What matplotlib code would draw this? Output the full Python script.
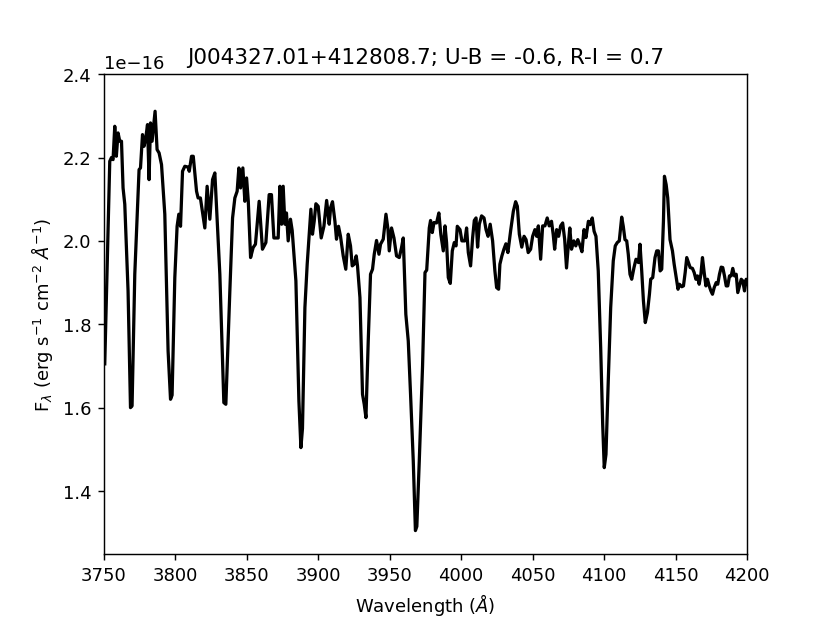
import matplotlib
matplotlib.use("Agg")
import matplotlib.pyplot as plt
import numpy as np

# spectrum (flux in units of 1e-16)
wave = [3750.7, 3754.2, 3755.4, 3756.5, 3757.7, 3758.8, 3760.0, 3761.2, 3762.4, 3763.5,
        3764.7, 3767.0, 3768.7, 3769.8, 3771.7, 3773.3, 3774.7, 3775.7, 3777.1, 3778.2,
        3779.4, 3780.6, 3781.7, 3782.7, 3783.8, 3785.0, 3785.9, 3787.3, 3788.7, 3790.4,
        3792.7, 3795.0, 3796.7, 3797.8, 3799.7, 3801.3, 3802.5, 3803.7, 3805.1, 3806.7,
        3809.0, 3809.8, 3811.4, 3812.6, 3814.9, 3816.0, 3817.6, 3820.7, 3822.3, 3824.2,
        3826.1, 3827.7, 3831.2, 3834.0, 3835.4, 3838.2, 3840.1, 3841.7, 3843.3, 3844.5,
        3845.7, 3847.3, 3848.7, 3849.9, 3851.1, 3852.7, 3854.5, 3856.1, 3858.7, 3861.0,
        3863.4, 3865.7, 3867.3, 3869.0, 3872.0, 3873.2, 3874.4, 3875.5, 3876.7, 3877.8,
        3879.0, 3880.6, 3881.8, 3884.4, 3886.5, 3887.9, 3889.0, 3890.7, 3892.3, 3893.7,
        3894.9, 3896.0, 3897.2, 3898.4, 3900.0, 3902.1, 3904.0, 3905.9, 3907.7, 3908.7,
        3910.0, 3911.7, 3912.8, 3914.2, 3915.6, 3917.5, 3919.3, 3921.0, 3922.6, 3923.8,
        3925.2, 3926.6, 3927.5, 3929.2, 3931.0, 3932.2, 3933.4, 3935.0, 3936.6, 3938.0,
        3939.2, 3940.8, 3942.5, 3943.6, 3945.5, 3947.4, 3948.8, 3949.7, 3951.3, 3953.0,
        3954.8, 3956.7, 3958.3, 3959.5, 3961.3, 3963.0, 3964.6, 3966.5, 3968.0, 3969.0,
        3970.7, 3973.0, 3974.7, 3975.9, 3977.7, 3978.6, 3979.8, 3981.0, 3982.8, 3984.4,
        3985.8, 3987.5, 3988.7, 3989.8, 3991.0, 3992.4, 3993.8, 3995.2, 3996.4, 3997.3,
        3999.2, 4000.5, 4002.6, 4003.8, 4005.0, 4006.6, 4008.0, 4009.2, 4010.4, 4011.5,
        4012.7, 4014.3, 4016.0, 4017.4, 4018.8, 4020.3, 4022.0, 4023.6, 4024.8, 4026.2,
        4027.1, 4028.5, 4029.9, 4031.3, 4032.7, 4034.6, 4036.5, 4038.1, 4039.3, 4040.7,
        4042.4, 4044.0, 4045.4, 4046.9, 4048.6, 4050.0, 4051.6, 4052.8, 4054.0, 4055.6,
        4057.0, 4058.6, 4060.2, 4061.6, 4063.2, 4064.4, 4065.4, 4066.8, 4068.2, 4069.6,
        4071.0, 4072.4, 4073.7, 4075.1, 4076.0, 4077.2, 4078.8, 4080.2, 4081.6, 4083.0,
        4084.5, 4085.9, 4087.3, 4089.0, 4090.2, 4091.7, 4093.0, 4094.3, 4095.9, 4097.6,
        4099.0, 4100.1, 4101.3, 4102.9, 4104.6, 4106.4, 4107.8, 4109.2, 4110.6, 4112.3,
        4113.4, 4114.6, 4115.8, 4116.9, 4118.1, 4119.3, 4120.9, 4122.3, 4124.0, 4125.1,
        4126.3, 4127.5, 4128.8, 4130.3, 4131.7, 4132.6, 4134.0, 4135.6, 4136.8, 4138.0,
        4139.2, 4140.3, 4141.5, 4142.2, 4143.4, 4144.5, 4146.1, 4147.8, 4149.0, 4150.4,
        4151.7, 4152.7, 4154.3, 4155.5, 4156.7, 4157.8, 4159.0, 4160.2, 4161.8, 4163.0,
        4164.2, 4165.3, 4166.5, 4167.7, 4168.8, 4170.0, 4171.2, 4172.3, 4173.5, 4174.7,
        4175.8, 4177.0, 4178.4, 4179.5, 4180.7, 4181.9, 4183.0, 4184.2, 4185.4, 4186.5,
        4187.7, 4188.9, 4190.0, 4191.2, 4192.4, 4193.5, 4194.7, 4195.9, 4197.0, 4198.2,
        4199.4, 4200.0]

flux = [1.705, 2.191, 2.200, 2.195, 2.275, 2.203, 2.259, 2.239, 2.239, 2.127,
        2.088, 1.880, 1.600, 1.604, 1.920, 2.055, 2.171, 2.175, 2.255, 2.227,
        2.247, 2.279, 2.147, 2.283, 2.239, 2.280, 2.311, 2.219, 2.211, 2.183,
        2.064, 1.736, 1.620, 1.630, 1.912, 2.035, 2.064, 2.035, 2.167, 2.179,
        2.177, 2.167, 2.203, 2.203, 2.119, 2.103, 2.103, 2.031, 2.131, 2.052,
        2.147, 2.163, 1.920, 1.612, 1.608, 1.880, 2.055, 2.103, 2.119, 2.175,
        2.127, 2.175, 2.095, 2.151, 2.095, 1.960, 1.984, 1.992, 2.095, 1.980,
        1.996, 2.111, 2.111, 2.007, 2.007, 2.131, 2.040, 2.131, 2.040, 2.067,
        2.000, 2.052, 2.025, 1.904, 1.616, 1.504, 1.550, 1.840, 1.944, 2.016,
        2.076, 2.016, 2.047, 2.089, 2.083, 2.007, 2.035, 2.097, 2.040, 2.080,
        2.094, 2.047, 2.004, 2.035, 2.011, 1.964, 1.932, 2.016, 1.988, 1.940,
        1.944, 1.964, 1.940, 1.864, 1.632, 1.608, 1.576, 1.760, 1.920, 1.932,
        1.968, 2.001, 1.968, 1.992, 2.004, 2.064, 2.028, 1.976, 2.031, 2.007,
        1.964, 1.960, 1.984, 2.007, 1.824, 1.760, 1.632, 1.472, 1.305, 1.315,
        1.472, 1.700, 1.924, 1.930, 2.031, 2.049, 2.020, 2.044, 2.043, 2.067,
        2.015, 1.976, 2.036, 1.996, 1.912, 1.898, 1.976, 1.996, 1.988, 2.035,
        2.027, 2.000, 2.000, 2.031, 1.972, 1.940, 2.007, 2.049, 2.055, 1.985,
        2.040, 2.060, 2.055, 2.027, 2.011, 2.040, 2.000, 1.928, 1.888, 1.884,
        1.944, 1.964, 1.980, 1.993, 1.972, 2.024, 2.071, 2.094, 2.083, 2.016,
        1.985, 2.011, 2.003, 1.972, 1.980, 2.011, 2.027, 2.011, 2.036, 1.956,
        2.036, 2.036, 2.055, 2.036, 2.047, 2.015, 1.980, 2.027, 2.011, 2.036,
        2.043, 2.004, 1.935, 1.996, 2.031, 1.980, 2.000, 1.988, 2.003, 1.990,
        1.974, 2.027, 2.008, 2.047, 2.039, 2.055, 2.023, 2.011, 1.928, 1.744,
        1.560, 1.456, 1.488, 1.664, 1.840, 1.952, 1.988, 1.996, 2.000, 2.057,
        2.035, 2.003, 2.000, 1.968, 1.920, 1.908, 1.936, 1.956, 1.948, 1.992,
        1.928, 1.856, 1.804, 1.828, 1.872, 1.908, 1.912, 1.960, 1.976, 1.976,
        1.928, 1.932, 2.047, 2.155, 2.135, 2.103, 2.003, 1.976, 1.944, 1.912,
        1.884, 1.896, 1.890, 1.892, 1.924, 1.960, 1.948, 1.936, 1.934, 1.924,
        1.908, 1.916, 1.896, 1.920, 1.960, 1.924, 1.892, 1.908, 1.892, 1.880,
        1.872, 1.888, 1.900, 1.896, 1.920, 1.937, 1.936, 1.916, 1.892, 1.892,
        1.916, 1.916, 1.934, 1.916, 1.920, 1.876, 1.892, 1.908, 1.904, 1.880,
        1.908, 1.896]

wave = np.array(wave)
flux = np.array(flux) * 1e-16

fig, ax = plt.subplots(figsize=(6.4, 4.8), dpi=129.7)
ax.plot(wave, flux, color='black', lw=1.8)
ax.set_xlim(3750, 4200)
ax.set_ylim(1.25e-16, 2.4e-16)
ax.set_xlabel(r'Wavelength ($\AA$)')
ax.set_ylabel(r'F$_\lambda$ (erg s$^{-1}$ cm$^{-2}$ $\AA^{-1}$)')
ax.set_title('J004327.01+412808.7; U-B = -0.6, R-I = 0.7')

fig.savefig('out.png', dpi=129.7)
